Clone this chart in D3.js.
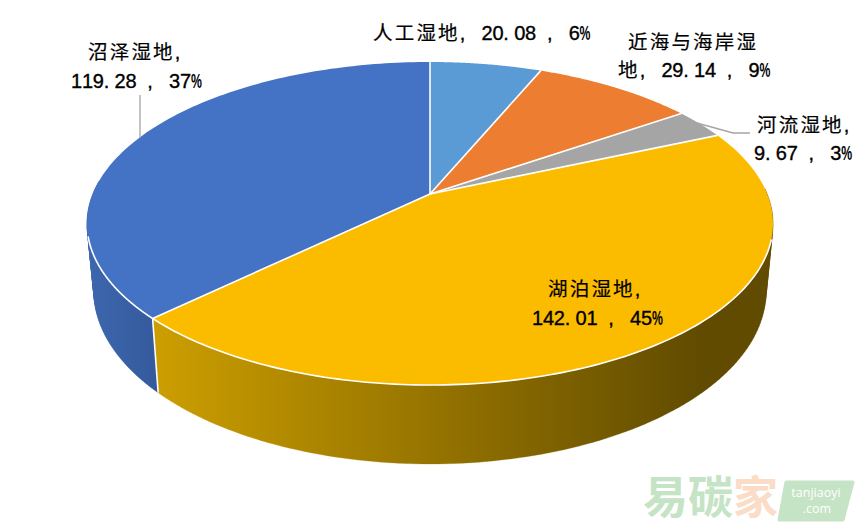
<!DOCTYPE html>
<html><head><meta charset="utf-8">
<script src="https://cdn.jsdelivr.net/npm/d3@7"></script>
<style>html,body{margin:0;background:#fff}svg{display:block}</style></head>
<body><svg id="c" width="860" height="530"></svg>
<script>
const categories = ["人工湿地","近海与海岸湿地","河流湿地","湖泊湿地","沼泽湿地"];
const values = [20.08,29.14,9.67,142.01,119.28];
const colors = ["#5b9bd5","#ed7d31","#a5a5a5","#fbbc00","#4472c4"];
const labelLines = [
  ["人工湿地,20.08 , 6%"],
  ["近海与海岸湿","地,29.14 , 9%"],
  ["河流湿地,","9.67 , 3%"],
  ["湖泊湿地,","142.01 , 45%"],
  ["沼泽湿地,","119.28 , 37%"]
];
const labelLeft = [[373],[628,618],[757,754],[548,532],[88,71]];
const baselines = [[40],[49,77],[132,160],[296,325],[59,88]];

const svg = d3.select("#c");
const defs = svg.append("defs");
const g1 = defs.append("linearGradient").attr("id","gold").attr("gradientUnits","userSpaceOnUse")
  .attr("x1",155).attr("x2",700).attr("y1",0).attr("y2",0);
g1.append("stop").attr("offset",0).attr("stop-color","#cc9e00");
g1.append("stop").attr("offset",1).attr("stop-color","#614b00");
const g2 = defs.append("linearGradient").attr("id","blue").attr("gradientUnits","userSpaceOnUse")
  .attr("x1",90).attr("x2",160).attr("y1",0).attr("y2",0);
g2.append("stop").attr("offset",0).attr("stop-color","#3d66ad");
g2.append("stop").attr("offset",1).attr("stop-color","#345a9c");

// Perspective projection of the pie disc
const cx=430, apexY=194, topY=62, frontY=385, halfW=343;
const k=(topY+frontY-2*apexY)/(frontY-topY);
const B=apexY-topY-topY*k, A=halfW*Math.sqrt(1-k*k);
const topPt=t=>{const a=Math.sin(t),b=Math.cos(t),w=1+k*b;return [cx+A*a/w,(apexY-B*b)/w];};
const sX=0.98,sY=1.07,dY=65.6;
const botPt=t=>{const p=topPt(t);return [cx+sX*(p[0]-cx),apexY+dY+sY*(p[1]-apexY)];};

const pie=d3.pie().sort(null).value(d=>d);
const arcs=pie(values);
const line=d3.line();
function rimPts(a0,a1,f){return d3.range(0,121).map(i=>f(a0+(a1-a0)*i/120));}

// walls: every quad gets the same winding so the union fills without holes
const rad=d=>d*Math.PI/180;
function wall(a0,a1,fill){
  const n=120;let dstr="";
  for(let i=0;i<n;i++){
    const t0=a0+(a1-a0)*i/n,t1=a0+(a1-a0)*(i+1)/n;
    const q=[topPt(t0),topPt(t1),botPt(t1),botPt(t0)];
    if(d3.polygonArea(q)<0) q.reverse();
    dstr+=line(q)+"Z";
  }
  svg.append("path").attr("d",dstr).attr("fill",fill).attr("stroke",fill).attr("stroke-width",0.3);
}
wall(rad(88),arcs[3].endAngle,"url(#gold)");
wall(arcs[4].startAngle,rad(275),"url(#blue)");

// top face
arcs.forEach((a,i)=>{
  const pts=[[cx,apexY],...rimPts(a.startAngle,a.endAngle,topPt)];
  svg.append("path").attr("d",line(pts)+"Z").attr("fill",colors[i]);
});
// separators
const white=(d,w)=>svg.append("path").attr("d",d).attr("stroke","#fff").attr("stroke-width",w).attr("fill","none");
arcs.forEach(a=>white(line([[cx,apexY],topPt(a.startAngle)]),1.6));
white(line(rimPts(rad(106),arcs[3].endAngle,topPt)),1.6);
white(line(rimPts(arcs[4].startAngle,rad(255),topPt)),1.6);
white(line([topPt(arcs[4].startAngle),botPt(arcs[4].startAngle)]),1.6);

// leader lines
const leaderA=[[140,138],[140,95]], leaderB=[[697,123],[733,133],[750,133]];
[leaderA,leaderB].forEach(l=>svg.append("path").attr("d",line(l)).attr("fill","none").attr("stroke","#a5a5a5").attr("stroke-width",1.3));

// labels: full-width cells for Chinese, half-width cells for digits
const cjkCell=21.7, latinCell=10.9;
const isCJK=c=>/[\u3000-\u9fff\uff00-\uffef]/.test(c);
labelLines.forEach((ls,i)=>ls.forEach((s,j)=>{
  const t=svg.append("text").attr("y",baselines[i][j]).attr("fill","#000");
  let x=labelLeft[i][j];
  const chars=Array.from(s);
  chars.forEach((ch,n)=>{
    const cjk=isCJK(ch);
    const wide=cjk||(ch===","&&n>0&&isCJK(chars[n-1]));
    if(ch!==" "){
      const ts=t.append("tspan").attr("x",x).text(ch);
      if(cjk) ts.style("font-family","'Noto Sans CJK SC'").style("font-size","19.5px").attr("stroke","#000").attr("stroke-width",0.2);
      else if(ch==="%") ts.style("font-family","'Liberation Sans'").style("font-weight","700").style("font-size","20px").attr("textLength",latinCell).attr("lengthAdjust","spacingAndGlyphs");
      else ts.style("font-family","'Liberation Sans'").style("font-size","20px").attr("stroke","#000").attr("stroke-width",0.35);
    }
    x+=wide?cjkCell:latinCell;
  });
}));

// watermark
const wm=svg.append("g");
wm.append("text").attr("x",643).attr("y",514).text("易碳").style("font-family","'Noto Sans CJK SC'").style("font-weight","700").style("font-size","45px").attr("fill","#c5e3c5");
wm.append("text").attr("x",733).attr("y",514).text("家").style("font-family","'Noto Sans CJK SC'").style("font-weight","700").style("font-size","45px").attr("fill","#fbdcc6");
wm.append("path").attr("d",line([[786,482],[853,482],[843,520],[779,520]])+"Z").attr("fill","#c5e3c5").attr("stroke","#c5e3c5").attr("stroke-width",3).attr("stroke-linejoin","round");
wm.append("text").attr("x",816).attr("y",497).attr("text-anchor","middle").text("tanjiaoyi").style("font-family","'Open Sans'").style("font-size","12.5px").attr("fill","#fff");
wm.append("text").attr("x",817).attr("y",513).attr("text-anchor","middle").text(".com").style("font-family","'Open Sans'").style("font-size","12.5px").attr("fill","#fff");
</script></body></html>
